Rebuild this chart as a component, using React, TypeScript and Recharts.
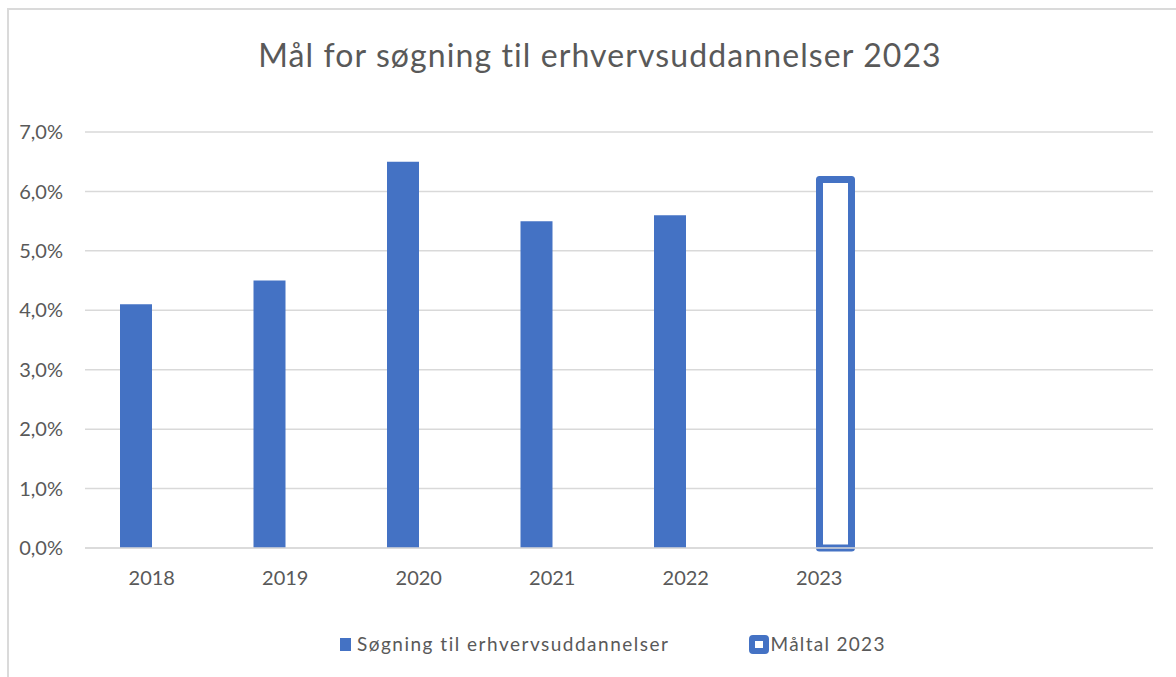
import { Bar, BarChart, CartesianGrid, XAxis, YAxis } from 'recharts'

const years = ['2018', '2019', '2020', '2021', '2022', '2023', '', '']
const soegning = [4.1, 4.5, 6.5, 5.5, 5.6, null, null, null]
const maaltal = [null, null, null, null, null, 6.2, null, null]
const yTicks = [0, 1, 2, 3, 4, 5, 6, 7]

const SERIES_1 = 'Søgning til erhvervsuddannelser'
const SERIES_2 = 'Måltal 2023'
const BLUE = '#4472C4'
const TEXT = '#595959'
const FONT = 'Lato, "Open Sans", sans-serif'

const data = years.map((year, i) => ({
  year,
  soegning: soegning[i],
  maaltal: maaltal[i],
}))

const fmtPct = (v: number) => `${v.toFixed(1).replace('.', ',')}%`

export default function App() {
  return (
    <div
      style={{
        position: 'absolute',
        left: 0,
        top: 0,
        width: 1176,
        height: 677,
        background: '#fff',
        fontFamily: FONT,
        overflow: 'hidden',
      }}
    >
      <div
        style={{
          position: 'absolute',
          left: 7,
          top: 8,
          width: 1180,
          height: 680,
          borderTop: '2px solid #dadada',
          borderLeft: '2px solid #dadada',
        }}
      />
      <div
        style={{
          position: 'absolute',
          left: 0,
          top: 38,
          width: 1200,
          textAlign: 'center',
          fontSize: 32,
          letterSpacing: 1.1,
          lineHeight: '34px',
          color: TEXT,
        }}
      >
        Mål for søgning til erhvervsuddannelser 2023
      </div>

      <div style={{ position: 'absolute', left: 0, top: 0 }}>
        <BarChart
          width={1176}
          height={677}
          data={data}
          margin={{ top: 132, right: 23, bottom: 99, left: 0 }}
          barSize={32}
          barGap={0}
        >
          <CartesianGrid stroke="#d9d9d9" strokeWidth={1.5} vertical={false} />
          <XAxis
            dataKey="year"
            height={30}
            tickSize={0}
            tickMargin={23}
            axisLine={{ stroke: '#d9d9d9', strokeWidth: 1.5 }}
            tickLine={false}
            tick={{ fill: TEXT, fontSize: 20, fontFamily: FONT }}
            interval={0}
          />
          <YAxis
            width={85}
            domain={[0, 7]}
            ticks={yTicks}
            tickFormatter={fmtPct}
            tickSize={0}
            tickMargin={22}
            axisLine={false}
            tickLine={false}
            tick={{ fill: TEXT, fontSize: 20, fontFamily: FONT }}
          />
          <Bar dataKey="soegning" name={SERIES_1} fill={BLUE} isAnimationActive={false} />
          <Bar
            dataKey="maaltal"
            name={SERIES_2}
            fill="#fff"
            stroke={BLUE}
            strokeWidth={7}
            strokeLinejoin="round"
            isAnimationActive={false}
          />
        </BarChart>
      </div>

      <div
        style={{
          position: 'absolute',
          top: 630,
          left: 340,
          display: 'flex',
          alignItems: 'center',
          fontSize: 19,
          lineHeight: '28px',
          color: TEXT,
        }}
      >
        <span style={{ display: 'inline-block', width: 11, height: 13, background: BLUE, marginRight: 6 }} />
        <span style={{ letterSpacing: 1.5 }}>{SERIES_1}</span>
        <span
          style={{
            display: 'inline-block',
            width: 8,
            height: 7,
            border: `6px solid ${BLUE}`,
            borderRadius: 4,
            background: '#fff',
            marginLeft: 80,
            marginRight: 1,
          }}
        />
        <span style={{ letterSpacing: 1.3 }}>{SERIES_2}</span>
      </div>
    </div>
  )
}
